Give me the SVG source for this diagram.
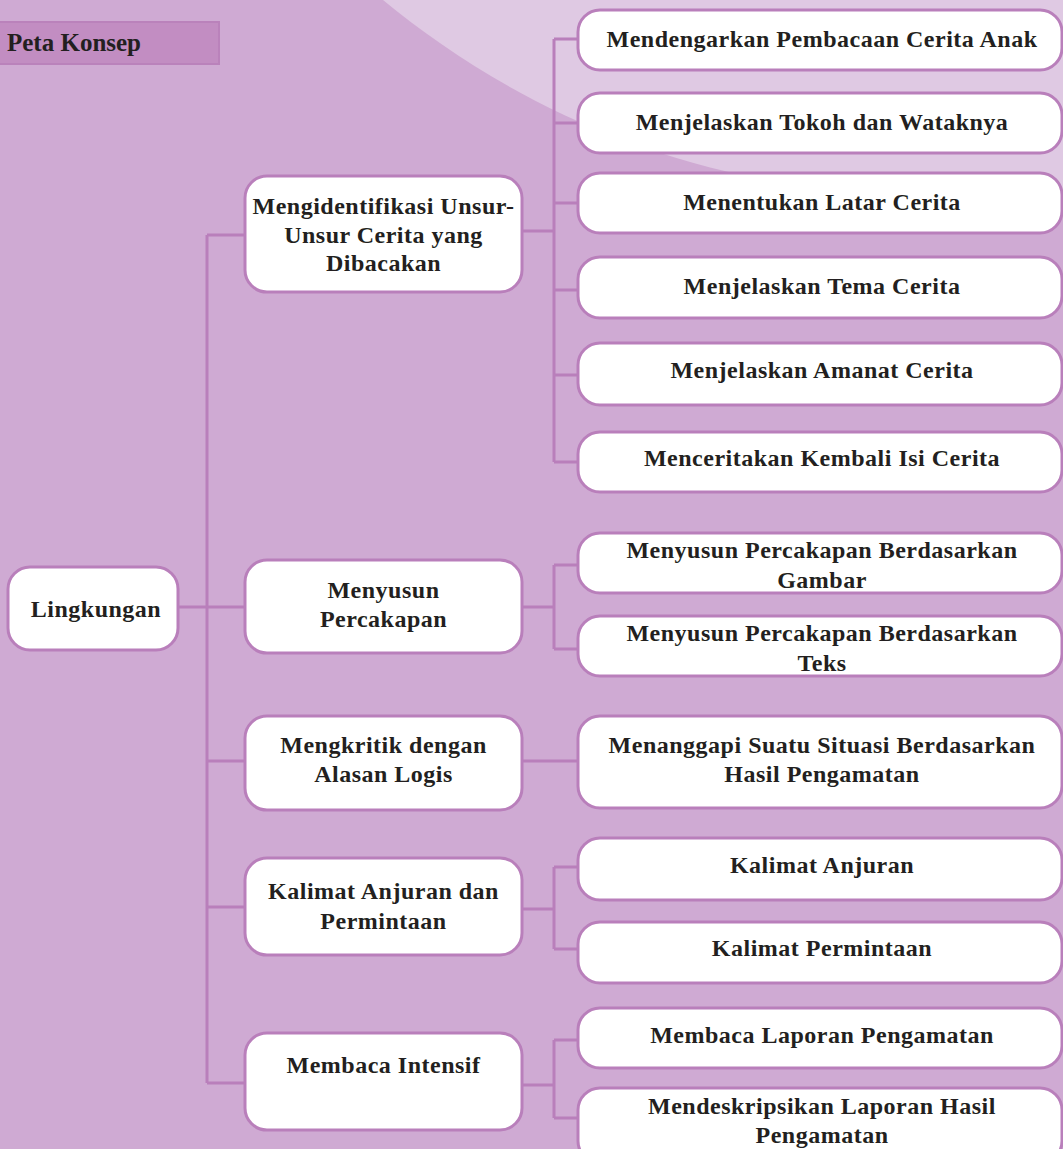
<svg xmlns="http://www.w3.org/2000/svg" width="1063" height="1149" viewBox="0 0 1063 1149">
<style>
.bg{fill:#cfaad3}
.bg-light{fill:#dfc9e3}
.hdr rect{fill:#c28dc2;stroke:#ba82bb;stroke-width:2}
.hdr text{font-family:"Liberation Serif",serif;font-weight:bold;font-size:25px;fill:#231f20}
.node rect{fill:#ffffff;stroke:#b97fbb;stroke-width:3}
.node text{font-family:"Liberation Serif",serif;font-weight:bold;font-size:24px;fill:#231f20;text-anchor:middle;letter-spacing:0.5px}
.conn path{fill:none;stroke:#b97fbb;stroke-width:3}
</style>
<rect class="bg" x="0" y="0" width="1063" height="1149"/>
<path class="bg-light" d="M383,0 C480,80 620,160 800,185 C900,198 1000,202 1063,203 L1063,0 Z"/>

<g id="header" class="hdr">
  <rect x="-2" y="22" width="221" height="42"/>
  <text x="7" y="51">Peta Konsep</text>
</g>

<g id="connectors" class="conn">
  <path d="M207,235 V1083"/>
  <path d="M207,235 H245"/>
  <path d="M178,607 H245"/>
  <path d="M207,761 H245"/>
  <path d="M207,907 H245"/>
  <path d="M207,1083 H245"/>
  <path d="M522,231 H554"/>
  <path d="M554,39 V462"/>
  <path d="M554,39 H578 M554,123 H578 M554,203 H578 M554,290 H578 M554,375 H578 M554,462 H578"/>
  <path d="M522,607 H554"/>
  <path d="M554,565 V649 M554,565 H578 M554,649 H578"/>
  <path d="M522,761 H578"/>
  <path d="M522,909 H554"/>
  <path d="M554,867 V949 M554,867 H578 M554,949 H578"/>
  <path d="M522,1085 H554"/>
  <path d="M554,1040 V1118 M554,1040 H578 M554,1118 H578"/>
</g>

<g id="n-lingkungan" class="node">
  <rect x="8" y="567" width="170" height="83" rx="22"/>
  <text x="96" y="617">Lingkungan</text>
</g>

<g id="n-mengidentifikasi" class="node">
  <rect x="245" y="176" width="277" height="116" rx="22"/>
  <text x="383.5" y="214">Mengidentifikasi Unsur-</text>
  <text x="383.5" y="243">Unsur Cerita yang</text>
  <text x="383.5" y="271">Dibacakan</text>
</g>
<g id="n-menyusun" class="node">
  <rect x="245" y="560" width="277" height="93" rx="22"/>
  <text x="383.5" y="598">Menyusun</text>
  <text x="383.5" y="627">Percakapan</text>
</g>
<g id="n-mengkritik" class="node">
  <rect x="245" y="716" width="277" height="94" rx="22"/>
  <text x="383.5" y="753">Mengkritik dengan</text>
  <text x="383.5" y="782">Alasan Logis</text>
</g>
<g id="n-kalimat" class="node">
  <rect x="245" y="858" width="277" height="97" rx="22"/>
  <text x="383.5" y="899">Kalimat Anjuran dan</text>
  <text x="383.5" y="929">Permintaan</text>
</g>
<g id="n-membaca" class="node">
  <rect x="245" y="1033" width="277" height="97" rx="22"/>
  <text x="383.5" y="1073">Membaca Intensif</text>
</g>

<g id="n-mendengarkan" class="node">
  <rect x="578" y="10" width="484" height="60" rx="22"/>
  <text x="822" y="47">Mendengarkan Pembacaan Cerita Anak</text>
</g>
<g id="n-tokoh" class="node">
  <rect x="578" y="93" width="484" height="60" rx="22"/>
  <text x="822" y="130">Menjelaskan Tokoh dan Wataknya</text>
</g>
<g id="n-latar" class="node">
  <rect x="578" y="173" width="484" height="60" rx="22"/>
  <text x="822" y="210">Menentukan Latar Cerita</text>
</g>
<g id="n-tema" class="node">
  <rect x="578" y="257" width="484" height="61" rx="22"/>
  <text x="822" y="294">Menjelaskan Tema Cerita</text>
</g>
<g id="n-amanat" class="node">
  <rect x="578" y="343" width="484" height="62" rx="22"/>
  <text x="822" y="378">Menjelaskan Amanat Cerita</text>
</g>
<g id="n-menceritakan" class="node">
  <rect x="578" y="432" width="484" height="60" rx="22"/>
  <text x="822" y="466">Menceritakan Kembali Isi Cerita</text>
</g>
<g id="n-gambar" class="node">
  <rect x="578" y="533" width="484" height="60" rx="22"/>
  <text x="822" y="558">Menyusun Percakapan Berdasarkan</text>
  <text x="822" y="588">Gambar</text>
</g>
<g id="n-teks" class="node">
  <rect x="578" y="616" width="484" height="60" rx="22"/>
  <text x="822" y="641">Menyusun Percakapan Berdasarkan</text>
  <text x="822" y="671">Teks</text>
</g>
<g id="n-menanggapi" class="node">
  <rect x="578" y="716" width="484" height="92" rx="22"/>
  <text x="822" y="753">Menanggapi Suatu Situasi Berdasarkan</text>
  <text x="822" y="782">Hasil Pengamatan</text>
</g>
<g id="n-anjuran" class="node">
  <rect x="578" y="838" width="484" height="62" rx="22"/>
  <text x="822" y="873">Kalimat Anjuran</text>
</g>
<g id="n-permintaan" class="node">
  <rect x="578" y="922" width="484" height="61" rx="22"/>
  <text x="822" y="956">Kalimat Permintaan</text>
</g>
<g id="n-laporan" class="node">
  <rect x="578" y="1008" width="484" height="60" rx="22"/>
  <text x="822" y="1043">Membaca  Laporan  Pengamatan</text>
</g>
<g id="n-mendeskripsikan" class="node">
  <rect x="578" y="1088" width="484" height="75" rx="22"/>
  <text x="822" y="1114">Mendeskripsikan Laporan Hasil</text>
  <text x="822" y="1143">Pengamatan</text>
</g>
</svg>
